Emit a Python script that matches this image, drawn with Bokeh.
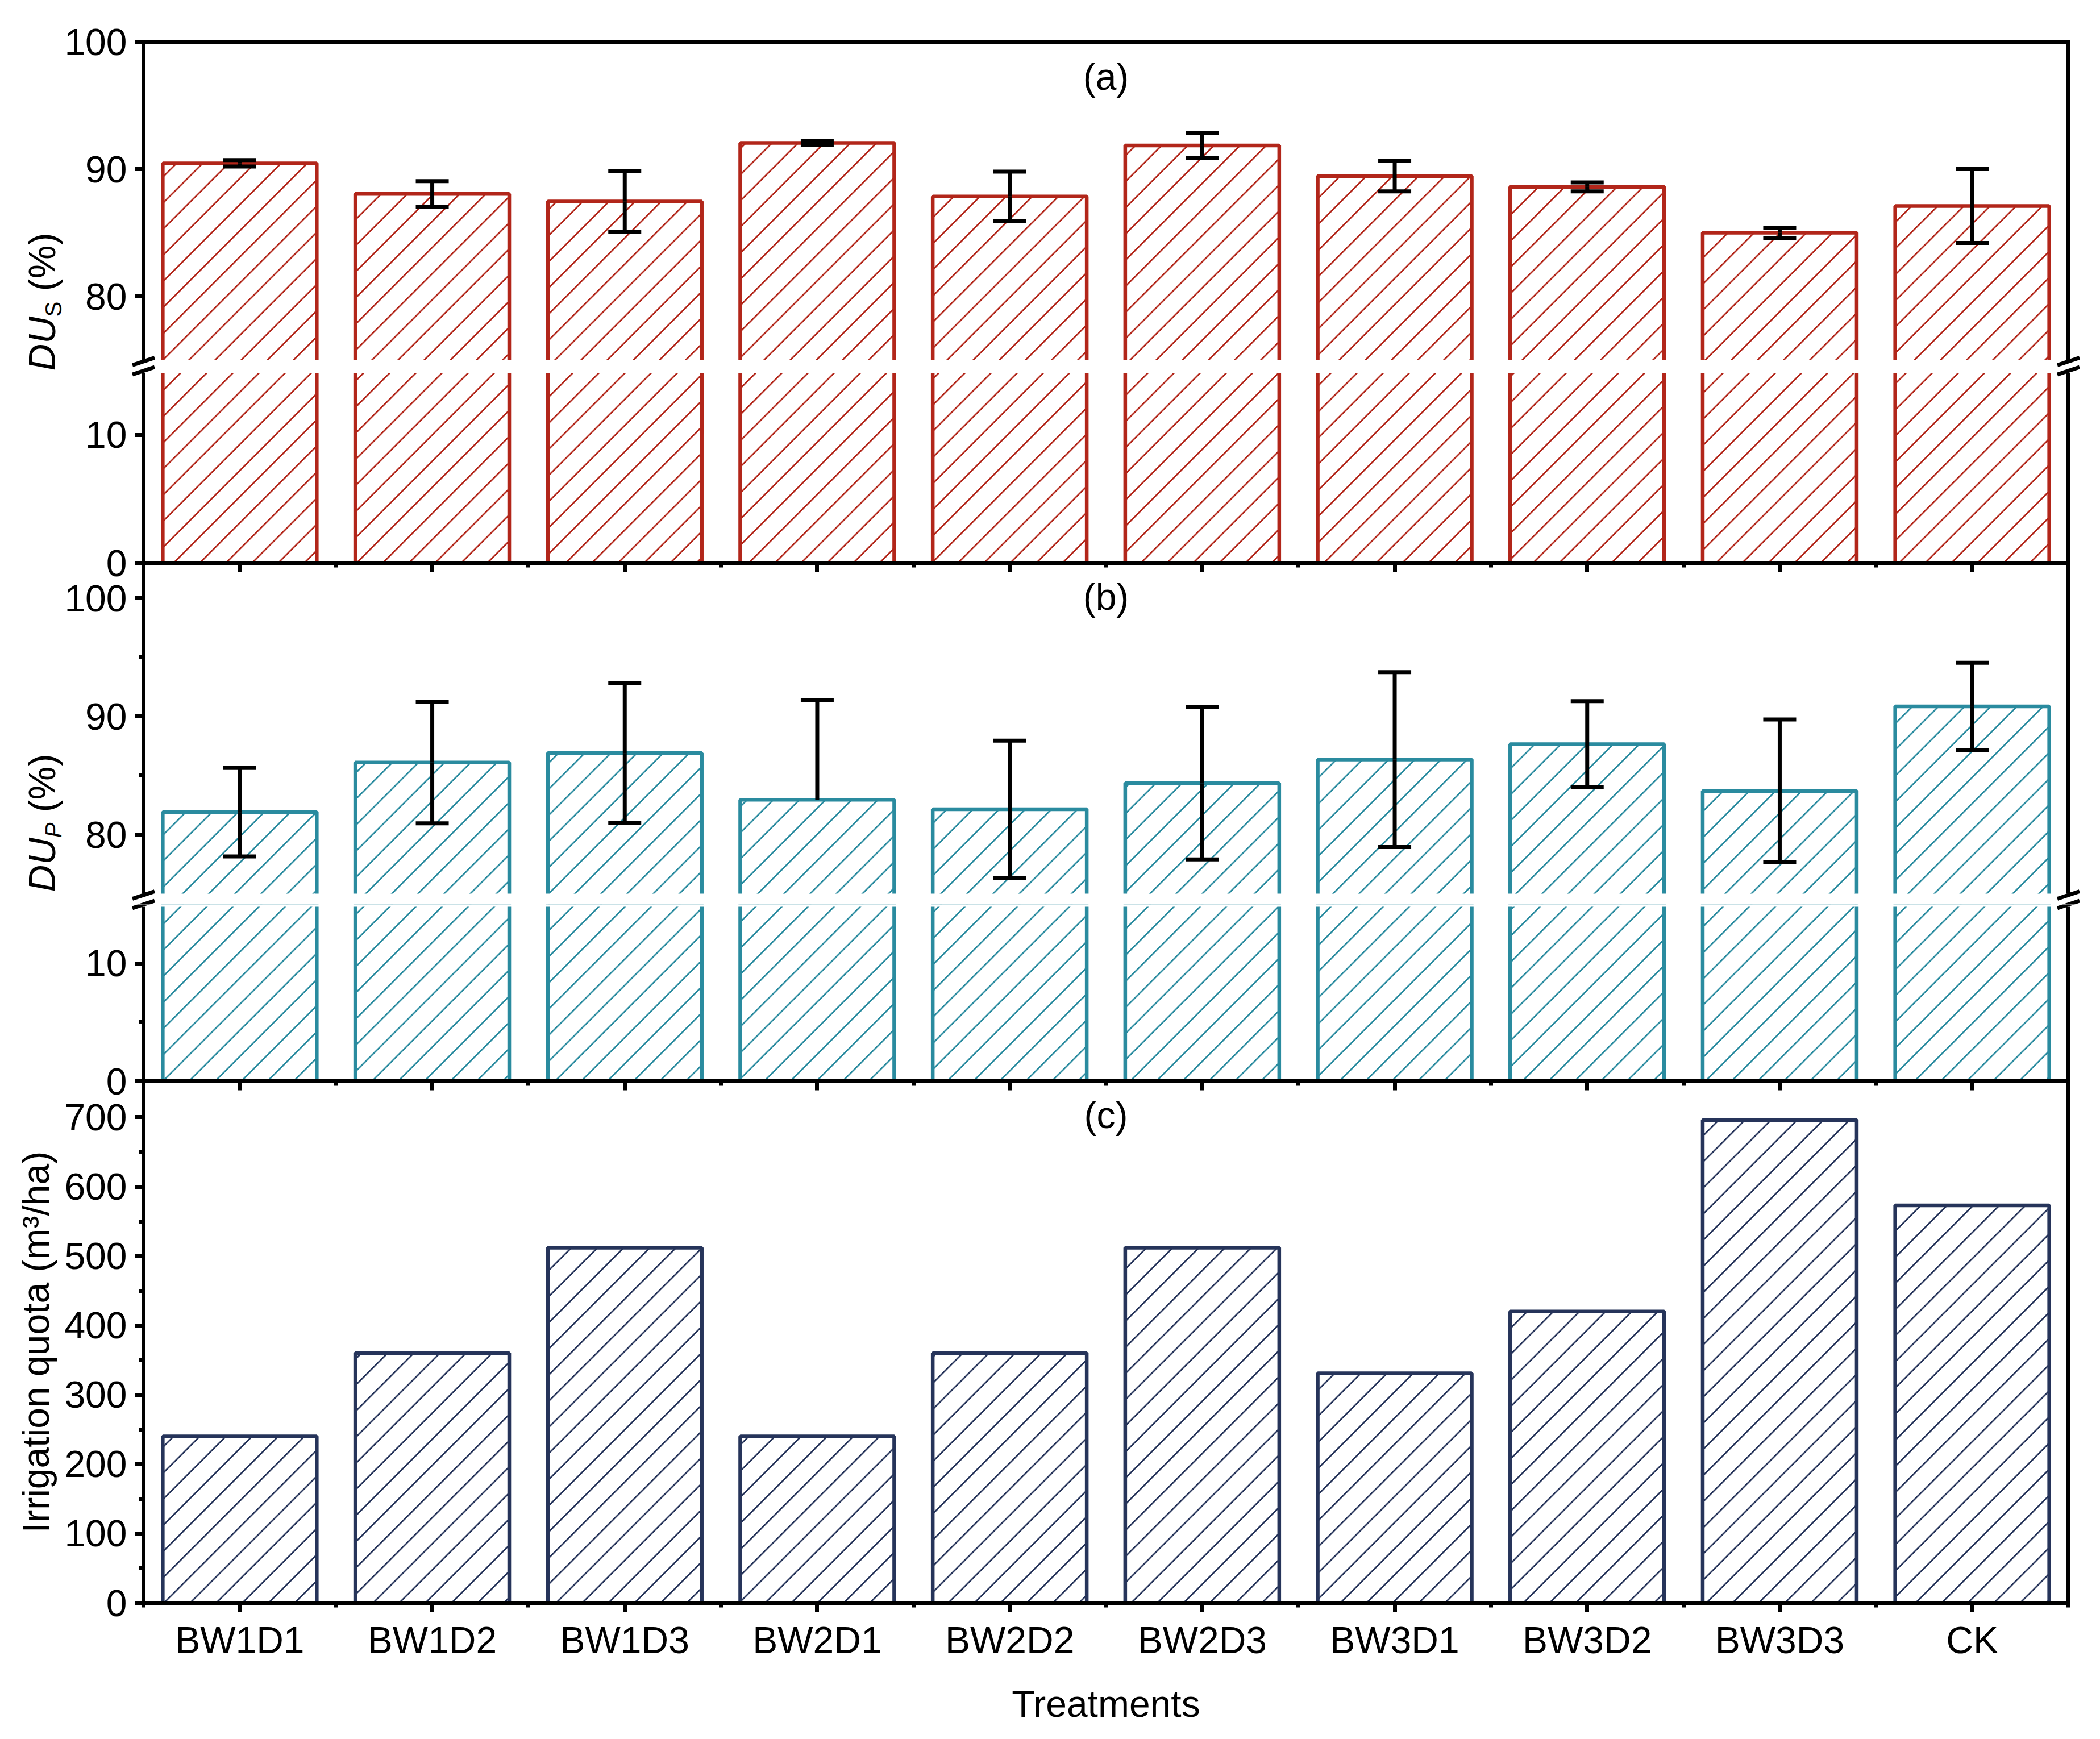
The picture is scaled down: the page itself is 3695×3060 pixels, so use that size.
import base64
import numpy as np
from bokeh.plotting import figure
from bokeh.layouts import column
from bokeh.core.properties import value
from bokeh.models import (Range1d, LinearAxis, FixedTicker, BoxAnnotation, ImageURLTexture,
                          ColumnDataSource, Whisker, TeeHead, Label, Arrow)
from bokeh.embed import file_html
from bokeh.resources import INLINE

# ---------------- data ----------------
cats = ["BW1D1", "BW1D2", "BW1D3", "BW2D1", "BW2D2", "BW2D3", "BW3D1", "BW3D2", "BW3D3", "CK"]
dus = [90.45, 88.05, 87.45, 92.05, 87.85, 91.85, 89.45, 88.6, 85.0, 87.1]
dus_err = [0.25, 1.0, 2.4, 0.15, 1.95, 1.0, 1.2, 0.35, 0.4, 2.9]
dup = [81.9, 86.1, 86.9, 82.95, 82.15, 84.35, 86.35, 87.65, 83.7, 90.85]
dup_err_up = [3.75, 5.15, 5.9, 8.45, 5.8, 6.45, 7.4, 3.65, 6.05, 3.7]
dup_err_low = [3.75, 5.15, 5.9, None, 5.8, 6.45, 7.4, 3.65, 6.05, 3.7]
quota = [240, 360, 512, 240, 360, 512, 331, 420, 696, 573]

ticks_a_up = [80, 90, 100]
ticks_lo = [0, 10]
ticks_b_up = [80, 90, 100]
minor_b_up = [85, 95]
minor_b_lo = [5]
ticks_c = [0, 100, 200, 300, 400, 500, 600, 700]
minor_c = [50, 150, 250, 350, 450, 550, 650]
seg_a_up = (75, 100)
seg_lo = (0, 15)
seg_b_up = (75, 103)
seg_c = (0, 752)

# ---------------- style / layout (page pixels) ----------------
FONT = "Liberation Sans"
FSZ = 66
FS = f"{FSZ}px"
RED = "#B2261A"
TEAL = "#2A8B9F"
NAVY = "#26345A"
LW = 7

N = len(cats)
xpos = [i + 0.5 for i in range(N)]      # category centres on the numeric axis
bounds = list(range(N + 1))             # category boundaries (minor ticks)

X0_PX, X1_PX = 260, 3647                # left / right edge of the plotting area
CAN_L, CAN_R = 8, 3687
PPX = (X1_PX - X0_PX) / N

TILE = 46


def diag_texture(color):
    s = TILE
    svg = (f'<svg xmlns="http://www.w3.org/2000/svg" width="{s}" height="{s}">'
           f'<g stroke="{color}" stroke-width="2.7" fill="none">'
           f'<line x1="-3" y1="{s + 3}" x2="{s + 3}" y2="-3"/>'
           f'<line x1="-3" y1="3" x2="3" y2="-3"/>'
           f'<line x1="{s - 3}" y1="{s + 3}" x2="{s + 3}" y2="{s - 3}"/>'
           f'</g></svg>')
    url = "data:image/svg+xml;base64," + base64.b64encode(svg.encode()).decode()
    return ImageURLTexture(url=url, repetition="repeat")


TEX = {"red": diag_texture(RED), "teal": diag_texture(TEAL), "navy": diag_texture(NAVY)}
COL = {"red": RED, "teal": TEAL, "navy": NAVY}


def xv(px):
    return (px - X0_PX) / PPX


class Seg:
    """linear map between a value axis and page-pixel rows"""
    def __init__(self, va, ya, vb, yb):
        self.va, self.ya, self.k = va, ya, (vb - va) / (yb - ya)

    def v(self, y):
        return self.va + (y - self.ya) * self.k


A_UP = Seg(100, 81, 75, 641)
A_LO = Seg(15, 660, 0, 998)
B_UP = Seg(103, 998, 75, 1580)
B_LO = Seg(15, 1599, 0, 1910)
C = Seg(752, 1910, 0, 2828)


def make_fig(top, bottom, seg, extra=None):
    p = figure(x_range=Range1d(xv(CAN_L), xv(CAN_R)),
               y_range=Range1d(seg.v(bottom), seg.v(top)),
               frame_width=CAN_R - CAN_L, frame_height=bottom - top,
               min_border_left=0, min_border_right=0, min_border_top=0, min_border_bottom=0,
               x_axis_location=None, y_axis_location=None,
               toolbar_location=None, output_backend="svg")
    if extra:
        name, s = extra
        p.extra_y_ranges = {name: Range1d(s.v(bottom), s.v(top))}
    p.outline_line_color = None
    p.grid.visible = False
    p.background_fill_color = "white"
    p.border_fill_color = "white"
    return p


def style(ax):
    ax.axis_line_width = LW
    ax.axis_line_color = "black"
    ax.axis_line_cap = "square"
    ax.major_tick_line_width = LW
    ax.minor_tick_line_width = LW
    ax.major_tick_line_color = "black"
    ax.minor_tick_line_color = "black"
    ax.major_label_text_font = FONT
    ax.major_label_text_font_size = FS
    ax.major_label_text_color = "black"
    ax.axis_label_text_font = FONT
    ax.axis_label_text_font_size = FS
    ax.axis_label_text_font_style = "normal"
    ax.axis_label_text_color = "black"
    return ax


def yaxis(p, rng, ticks, minor, seg_bounds, label=None):
    ax = LinearAxis(y_range_name=rng, ticker=FixedTicker(ticks=ticks, minor_ticks=minor),
                    fixed_location=0, bounds=seg_bounds,
                    major_tick_out=15, major_tick_in=0, minor_tick_out=8, minor_tick_in=0,
                    major_label_standoff=14)
    style(ax)
    if label:
        ax.axis_label = label
        ax.axis_label_standoff = 10
    p.add_layout(ax, "left")
    rax = LinearAxis(y_range_name=rng, ticker=FixedTicker(ticks=[], minor_ticks=[]),
                     fixed_location=N, bounds=seg_bounds, major_tick_in=0, major_tick_out=0,
                     minor_tick_in=0, minor_tick_out=0, major_label_standoff=0)
    style(rax)
    rax.major_label_text_font_size = "0px"
    p.add_layout(rax, "right")


def xaxis(p, rng, loc, side, ticks=True, labels=False):
    ax = LinearAxis(y_range_name=rng, fixed_location=loc, bounds=(0, N),
                    ticker=FixedTicker(ticks=xpos if ticks else [], minor_ticks=bounds if ticks else []),
                    major_tick_out=16 if ticks else 0, major_tick_in=0,
                    minor_tick_out=8 if ticks else 0, minor_tick_in=0,
                    major_label_standoff=12 if labels else 0)
    style(ax)
    if labels:
        ax.major_label_overrides = {c: k for c, k in zip(xpos, cats)}
        ax.axis_label = "Treatments"
        ax.axis_label_standoff = 35
    else:
        ax.major_label_overrides = {c: "" for c in xpos}
        ax.major_label_text_font_size = "0px"
    p.add_layout(ax, side)


def bars(p, vals, key, rng="default"):
    src = ColumnDataSource(dict(x=xpos, cats=cats, vals=vals))
    p.vbar(x="x", top="vals", bottom=0, width=0.8, source=src, y_range_name=rng,
           fill_color="white", line_color=COL[key], line_width=6.5,
           hatch_pattern=value(key), hatch_extra={key: TEX[key]}, hatch_scale=TILE)


def errors(p, vals, up, low, rng="default"):
    su = ColumnDataSource(dict(x=xpos, base=vals, hi=[v + e for v, e in zip(vals, up)]))
    p.add_layout(Whisker(source=su, base="x", lower="base", upper="hi", y_range_name=rng,
                         line_width=LW, line_color="black", level="annotation", lower_head=None,
                         upper_head=TeeHead(size=58, line_width=LW, line_color="black")))
    keep = [i for i, e in enumerate(low) if e is not None]
    sl = ColumnDataSource(dict(x=[xpos[i] for i in keep], base=[vals[i] for i in keep],
                               lo=[vals[i] - low[i] for i in keep]))
    p.add_layout(Whisker(source=sl, base="x", lower="lo", upper="base", y_range_name=rng,
                         line_width=LW, line_color="black", level="annotation", upper_head=None,
                         lower_head=TeeHead(size=58, line_width=LW, line_color="black")))


def gap_box(p, top_value, rng="default"):
    # white band of the axis break, from the segment's lower limit down to the frame edge
    p.add_layout(BoxAnnotation(top=top_value, y_range_name=rng, fill_color="white", fill_alpha=1.0,
                               line_color=None, level="annotation"))


def top_band(p, seg, px, rng="default"):
    # thin white band just under the frame top of a lower segment
    p.add_layout(BoxAnnotation(bottom=seg.v(px), top=seg.v(px - 40),
                               left=xv(CAN_L - 20), right=xv(CAN_R + 20),
                               y_range_name=rng, fill_color="white", fill_alpha=1.0,
                               line_color=None, line_alpha=0, level="annotation"))


def marks(p, seg, centers_px, rng="default"):
    for yc in centers_px:
        for xc in (X0_PX, X1_PX):
            p.add_layout(Arrow(start=None, end=None, y_range_name=rng,
                               x_start=xv(xc - 19.5), y_start=seg.v(yc + 6.5),
                               x_end=xv(xc + 19.5), y_end=seg.v(yc - 6.5),
                               line_width=LW, line_color="black"))


def panel_tag(p, text, seg, y_px, rng="default"):
    p.add_layout(Label(x=N / 2, y=seg.v(y_px), y_range_name=rng, text=text, text_align="center",
                       text_baseline="middle", text_font=FONT, text_font_size=FS, text_color="black"))


def ylabel(p, seg, start_px, sub, rng="default"):
    base_x = 81 - X0_PX
    w_du = 1.444 * FSZ
    w_sub = 0.667 * 40
    w_sp = 0.278 * FSZ
    parts = [("DU", FSZ, "italic", base_x, start_px),
             (sub, 40, "italic" if sub == "P" else "normal", base_x + 20, start_px - w_du),
             ("(%)", FSZ, "normal", base_x, start_px - w_du - w_sub - w_sp)]
    for t, s, st, dx, ypx in parts:
        p.add_layout(Label(x=0, y=seg.v(ypx), y_range_name=rng, x_offset=dx, text=t, angle=np.pi / 2,
                           text_font=FONT, text_font_size=f"{s}px", text_font_style=st,
                           text_align="left", text_baseline="alphabetic", text_color="black"))


# ---------------- figure 1: panel (a) upper segment ----------------
f1 = make_fig(8, 660, A_UP)
bars(f1, dus, "red")
gap_box(f1, seg_a_up[0])
errors(f1, dus, dus_err, dus_err)
yaxis(f1, "default", ticks_a_up, [], seg_a_up)
xaxis(f1, "default", seg_a_up[1], "above", ticks=False)
marks(f1, A_UP, [643.5, 660])
panel_tag(f1, "(a)", A_UP, 142)
ylabel(f1, A_UP, 660, "S")

# ---------------- figure 2: panel (a) lower + panel (b) upper ----------------
f2 = make_fig(660, 1599, A_LO, ("b", B_UP))
bars(f2, dus, "red")
bars(f2, dup, "teal", "b")
top_band(f2, A_LO, 664)
gap_box(f2, seg_b_up[0], "b")
errors(f2, dup, dup_err_up, dup_err_low, "b")
yaxis(f2, "default", ticks_lo, [], seg_lo)
yaxis(f2, "b", ticks_b_up, minor_b_up, seg_b_up)
xaxis(f2, "default", 0, "below")
marks(f2, A_LO, [643.5, 660])
marks(f2, B_UP, [1582.5, 1599], "b")
panel_tag(f2, "(b)", B_UP, 1057, "b")
ylabel(f2, B_UP, 1577, "P", "b")

# ---------------- figure 3: panel (b) lower + panel (c) ----------------
f3 = make_fig(1599, 3043, B_LO, ("c", C))
bars(f3, dup, "teal")
bars(f3, quota, "navy", "c")
top_band(f3, B_LO, 1603)
yaxis(f3, "default", ticks_lo, minor_b_lo, seg_lo)
yaxis(f3, "c", ticks_c, minor_c, seg_c, "Irrigation quota (m³/ha)")
xaxis(f3, "default", 0, "below")
xaxis(f3, "c", 0, "below", labels=True)
marks(f3, B_LO, [1582.5, 1599])
panel_tag(f3, "(c)", C, 1969, "c")

layout = column(f1, f2, f3, spacing=0)
open("out.html", "w").write(file_html(layout, INLINE))
